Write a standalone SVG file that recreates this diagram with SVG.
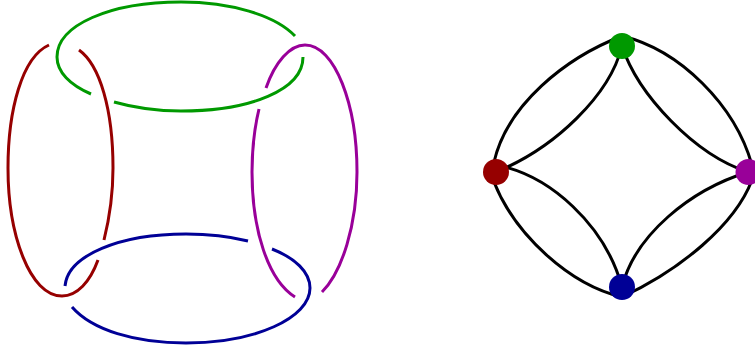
<svg xmlns="http://www.w3.org/2000/svg" width="755" height="347" viewBox="0 0 755 347">
<style>
.s{fill:none;stroke-width:3}
.r{stroke:#960000}.g{stroke:#009900}.p{stroke:#990099}.b{stroke:#000096}.k{stroke:#000}
</style>
<rect width="755" height="347" fill="#fff"/>
<g id="link-red"><path class="s r" d="M49,45C22,57 8,110 8,168C8,235 30,296 62,296C77,296 90,282 98,260"/><path class="s r" d="M79,50C100,65 113,110 113,168C113,195 109,220 104,240"/></g>
<g id="link-green"><path class="s g" d="M295,36C275,15 230,2 181,2C110,2 57,25 57,57C57,72 70,85 91,94"/><path class="s g" d="M114,102C135,108 158,111 181,111C250,111 303,90 303,57"/></g>
<g id="link-purple"><path class="s p" d="M266,88C275,62 290,45 305,45C335,45 357,105 357,172C357,225 342,272 322,292"/><path class="s p" d="M259,109C254,130 252,150 252,172C252,230 268,280 295,297"/></g>
<g id="link-blue"><path class="s b" d="M65,286C68,255 120,234 186,234C208,234 228,236 248,241"/><path class="s b" d="M272,249C295,258 310,272 310,288C310,318 255,343 186,343C135,343 92,330 72,307"/></g>
<g id="connectors">
<path class="s k" d="M494,162C507,105 565,58 622,36"/>
<path class="s k" d="M496,172C555,148 610,95 622,46"/>
<path class="s k" d="M622,36C680,50 735,105 752,165"/>
<path class="s k" d="M622,46C638,95 695,155 748,172"/>
<path class="s k" d="M494,182C515,235 570,285 622,297"/>
<path class="s k" d="M496,165C550,175 605,225 622,287"/>
<path class="s k" d="M622,287C635,235 690,190 748,172"/>
<path class="s k" d="M622,297C680,270 735,225 752,180"/>
</g>
<g id="node-green"><circle cx="622" cy="46" r="13" fill="#009900"/></g>
<g id="node-red"><circle cx="496" cy="172" r="13" fill="#960000"/></g>
<g id="node-purple"><circle cx="748.5" cy="172" r="13" fill="#990099"/></g>
<g id="node-blue"><circle cx="622" cy="287" r="13" fill="#000096"/></g>
</svg>
